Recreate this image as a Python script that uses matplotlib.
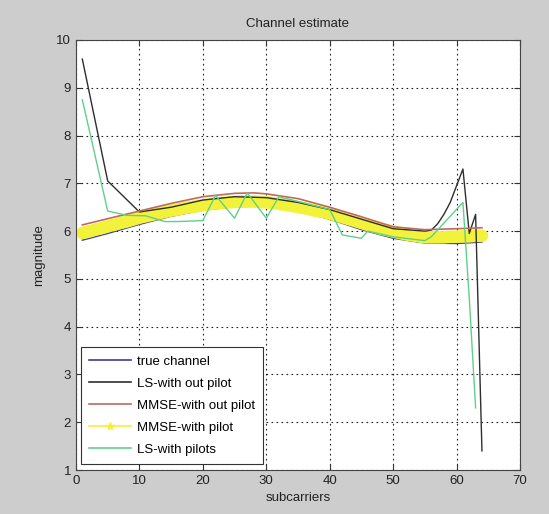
import matplotlib
matplotlib.use("Agg")
import matplotlib.pyplot as plt
from matplotlib.lines import Line2D

plt.rcParams['font.family'] = ['Liberation Sans', 'DejaVu Sans']

# ---------------- data ----------------
true_x = [1, 5, 10, 15, 20, 25, 28, 30, 35, 40, 45, 50, 55, 60, 64]
true_y = [5.81, 5.95, 6.14, 6.31, 6.44, 6.51, 6.52, 6.51, 6.42, 6.25, 6.03, 5.85, 5.75, 5.74, 5.77]

ls_x = [1, 5, 10, 15, 20, 25, 30, 35, 40, 45, 50, 55, 56, 57, 58, 59, 60, 61, 62, 63, 64]
ls_y = [9.6, 7.05, 6.4, 6.5, 6.65, 6.72, 6.7, 6.6, 6.45, 6.25, 6.05, 6.0, 6.02, 6.15, 6.35, 6.6, 6.95, 7.3, 5.95, 6.35, 1.4]

mmse_x = [1, 5, 10, 15, 20, 25, 28, 30, 35, 40, 45, 50, 55, 60, 64]
mmse_y = [6.13, 6.26, 6.42, 6.58, 6.72, 6.79, 6.80, 6.78, 6.68, 6.50, 6.30, 6.09, 6.03, 6.05, 6.07]

mmsep_x = list(range(1, 65))
mmsep_y = [5.96, 5.99, 6.03, 6.06, 6.10, 6.13, 6.17, 6.20, 6.24, 6.28,
           6.31, 6.34, 6.37, 6.40, 6.43, 6.45, 6.48, 6.50, 6.52, 6.54,
           6.56, 6.58, 6.59, 6.60, 6.61, 6.62, 6.62, 6.62, 6.61, 6.60,
           6.59, 6.57, 6.55, 6.53, 6.50, 6.48, 6.45, 6.42, 6.40, 6.37,
           6.33, 6.29, 6.25, 6.21, 6.17, 6.13, 6.09, 6.05, 6.02, 5.99,
           5.96, 5.93, 5.91, 5.89, 5.87, 5.87, 5.87, 5.87, 5.88, 5.88,
           5.89, 5.89, 5.90, 5.90]

lsp_x = [1, 5, 8, 11, 14, 16, 20, 22, 25, 27, 30, 32, 35, 40, 42, 45, 46, 50, 55, 56, 61, 62, 63]
lsp_y = [8.75, 6.42, 6.33, 6.32, 6.2, 6.2, 6.22, 6.75, 6.27, 6.8, 6.27, 6.72, 6.62, 6.45,
         5.92, 5.85, 6.0, 5.88, 5.8, 5.88, 6.6, 4.6, 2.3]

labels = ['true channel', 'LS-with out pilot', 'MMSE-with out pilot',
          'MMSE-with pilot', 'LS-with pilots']
xticks = [0, 10, 20, 30, 40, 50, 60, 70]
yticks = [1, 2, 3, 4, 5, 6, 7, 8, 9, 10]

# ---------------- figure ----------------
fig = plt.figure(figsize=(5.49, 5.14), dpi=100, facecolor='#cdcdcd')
ax = fig.add_axes([0.1384, 0.0856, 0.8088, 0.8366])
ax.set_facecolor('white')

c_true = '#3c3c96'
c_ls = '#2e2e2e'
c_mmse = '#c06a5e'
c_yel = '#f2f23a'
c_green = '#5fd08c'

ax.plot(true_x, true_y, color=c_true, lw=1.0, zorder=2)
ax.plot(ls_x, ls_y, color=c_ls, lw=1.0, zorder=3)
ax.plot(mmse_x, mmse_y, color=c_mmse, lw=1.2, zorder=3)
ax.plot(mmsep_x, mmsep_y, color=c_yel, lw=9, solid_capstyle='round', zorder=2.5)
ax.plot(mmsep_x, mmsep_y, color=c_yel, lw=0, marker='*', ms=8, mew=1.0, zorder=2.5)
ax.plot(lsp_x, lsp_y, color=c_green, lw=1.0, zorder=5)

ax.set_xlim(0, 70)
ax.set_ylim(1, 10)
ax.set_xticks(xticks)
ax.set_yticks(yticks)
ax.tick_params(direction='in', length=4, labelsize=9.5, top=True, right=True,
               color='#333333', labelcolor='#222222')
ax.grid(True, color='#222222', linestyle=(0, (1.5, 3)), linewidth=0.8)
for s in ax.spines.values():
    s.set_color('#444444')
    s.set_linewidth(0.8)

ax.set_title('Channel estimate', fontsize=9.5, pad=9, color='#222222')
ax.set_xlabel('subcarriers', fontsize=9.5, labelpad=4, color='#222222')
ax.set_ylabel('magnitude', fontsize=9.5, labelpad=8, color='#222222')

handles = [
    Line2D([], [], color=c_true, lw=1.2),
    Line2D([], [], color=c_ls, lw=1.2),
    Line2D([], [], color=c_mmse, lw=1.2),
    Line2D([], [], color=c_yel, lw=1.2, marker='*', ms=6),
    Line2D([], [], color=c_green, lw=1.2),
]
leg = ax.legend(handles, labels, loc='lower left', bbox_to_anchor=(0.012, 0.014),
                fontsize=9.5, frameon=True, fancybox=False, framealpha=1,
                edgecolor='#333333', handlelength=3.2, labelspacing=0.75,
                borderaxespad=0, handletextpad=0.4, borderpad=0.6)
leg.get_frame().set_linewidth(0.8)

fig.savefig('out.png', dpi=100, facecolor=fig.get_facecolor())
